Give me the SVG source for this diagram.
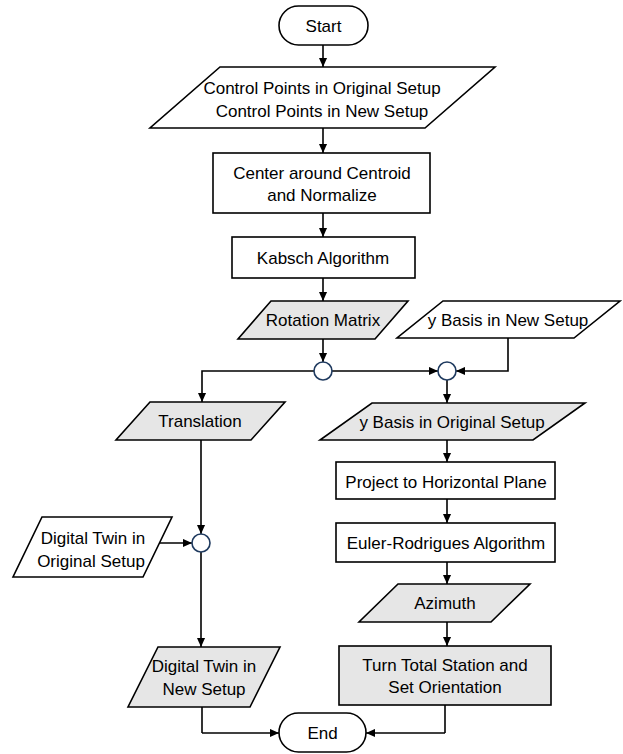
<svg xmlns="http://www.w3.org/2000/svg" width="623" height="754" viewBox="0 0 623 754">
<defs>
<marker id="ah" viewBox="0 0 10 10" refX="10" refY="5" markerWidth="9" markerHeight="9" markerUnits="userSpaceOnUse" orient="auto"><path d="M0,0.5 L10,5 L0,9.5 z" fill="#000"/></marker>
<style>
.s{fill:#fff;stroke:#000;stroke-width:1.6}
.g{fill:#e6e6e6;stroke:#000;stroke-width:1.6}
.j{fill:#fff;stroke:#1f3a5f;stroke-width:1.6}
.c{fill:none;stroke:#000;stroke-width:1.6;marker-end:url(#ah)}
.l{fill:none;stroke:#000;stroke-width:1.6}
text{font-family:"Liberation Sans",Arial,sans-serif;font-size:17px;fill:#000;text-anchor:middle;dominant-baseline:central}
</style>
</defs>
<rect width="623" height="754" fill="#fff"/>
<g id="connectors">
<path class="c" d="M323,45 V67"/>
<path class="c" d="M323,128 V153"/>
<path class="c" d="M323,213 V237"/>
<path class="c" d="M323,278 V301"/>
<path class="c" d="M323,339 V362"/>
<path class="c" d="M314,371 H202 V402"/>
<path class="c" d="M332,371 H438"/>
<path class="c" d="M508,338 V371 H456"/>
<path class="c" d="M447,380 V403"/>
<path class="c" d="M447,440 V462"/>
<path class="c" d="M447,499 V523"/>
<path class="c" d="M447,562 V584"/>
<path class="c" d="M447,622 V646"/>
<path class="l" d="M445,705 V733"/>
<path class="c" d="M445,733 H366"/>
<path class="c" d="M201,440 V534"/>
<path class="c" d="M159,543 H192"/>
<path class="c" d="M201,552 V647"/>
<path class="l" d="M202,707 V733"/>
<path class="c" d="M202,733 H279"/>
</g>
<g id="start">
<rect class="s" x="279" y="6" width="89" height="39" rx="19.5"/>
<text x="323.5" y="26">Start</text>
</g>
<g id="control-points">
<polygon class="s" points="220,67 495,67 425,128 150,128"/>
<text x="322" y="88">Control Points in Original Setup</text>
<text x="322" y="111">Control Points in New Setup</text>
</g>
<g id="center">
<rect class="s" x="213" y="153" width="217" height="60"/>
<text x="322" y="173">Center around Centroid</text>
<text x="322" y="195">and Normalize</text>
</g>
<g id="kabsch">
<rect class="s" x="232" y="237" width="183" height="41"/>
<text x="323" y="258">Kabsch Algorithm</text>
</g>
<g id="rotation">
<polygon class="g" points="271,301 408,301 375,339 238,339"/>
<text x="323" y="320">Rotation Matrix</text>
</g>
<g id="ybasis-new">
<polygon class="s" points="443,301 620,301 574,338 397,338"/>
<text x="508" y="320">y Basis in New Setup</text>
</g>
<g id="junction-1"><circle class="j" cx="323" cy="371" r="9"/></g>
<g id="junction-2"><circle class="j" cx="447" cy="371" r="9"/></g>
<g id="translation">
<polygon class="g" points="150,402 285,402 251,440 116,440"/>
<text x="200" y="421">Translation</text>
</g>
<g id="ybasis-orig">
<polygon class="g" points="372,403 585,403 533,440 320,440"/>
<text x="452" y="422">y Basis in Original Setup</text>
</g>
<g id="project">
<rect class="s" x="336" y="462" width="219" height="37"/>
<text x="446" y="482">Project to Horizontal Plane</text>
</g>
<g id="euler">
<rect class="s" x="336" y="523" width="219" height="39"/>
<text x="446" y="543">Euler-Rodrigues Algorithm</text>
</g>
<g id="azimuth">
<polygon class="g" points="398,584 530,584 491,622 359,622"/>
<text x="445" y="603">Azimuth</text>
</g>
<g id="turn">
<rect class="g" x="339" y="646" width="212" height="59"/>
<text x="445" y="665">Turn Total Station and</text>
<text x="445" y="687">Set Orientation</text>
</g>
<g id="dt-orig">
<polygon class="s" points="42,517 172,517 143,577 13,577"/>
<text x="93" y="538">Digital Twin in</text>
<text x="91" y="561">Original Setup</text>
</g>
<g id="junction-3"><circle class="j" cx="201" cy="543" r="9"/></g>
<g id="dt-new">
<polygon class="g" points="158,647 280,647 250,707 128,707"/>
<text x="204" y="666">Digital Twin in</text>
<text x="204" y="689">New Setup</text>
</g>
<g id="end">
<rect class="s" x="279" y="713" width="87" height="39" rx="19.5"/>
<text x="322.5" y="733">End</text>
</g>
</svg>
